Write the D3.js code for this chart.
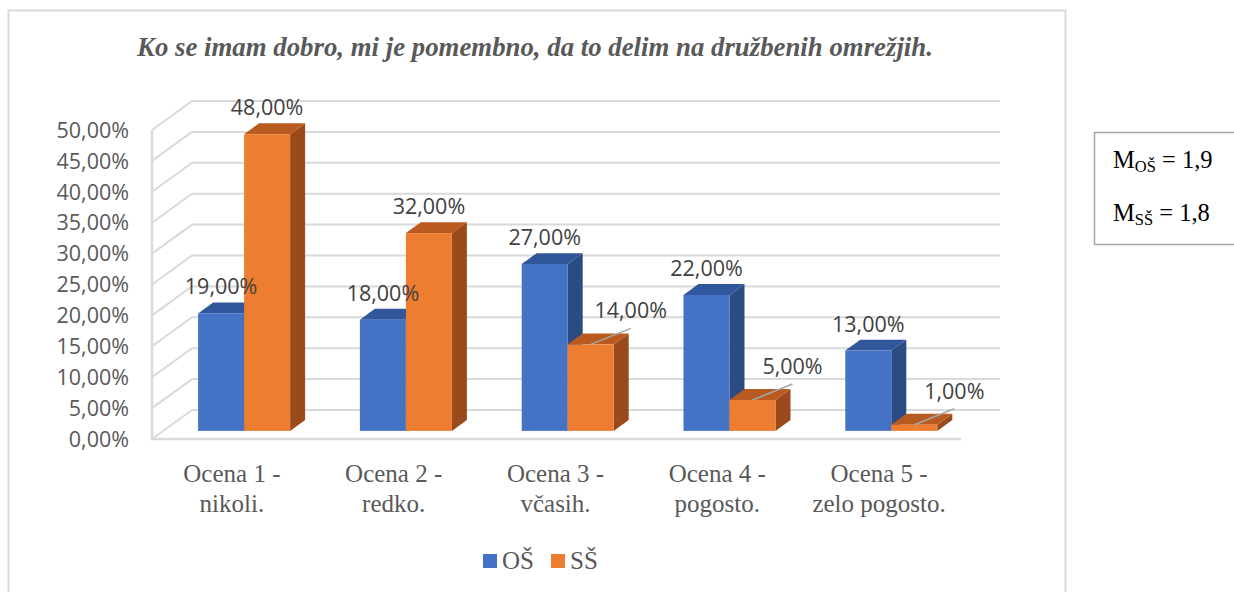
<!DOCTYPE html>
<html>
<head>
<meta charset="utf-8">
<script src="https://cdnjs.cloudflare.com/ajax/libs/d3/7.8.5/d3.min.js"></script>
<style>
  body { margin: 0; background: #fff; }
  svg { display: block; }
</style>
</head>
<body>
<svg id="chart" width="1234" height="592"></svg>
<script>

var title = 'Ko se imam dobro, mi je pomembno, da to delim na družbenih omrežjih.';

var categories = [
  ['Ocena 1 -', 'nikoli.'],
  ['Ocena 2 -', 'redko.'],
  ['Ocena 3 -', 'včasih.'],
  ['Ocena 4 -', 'pogosto.'],
  ['Ocena 5 -', 'zelo pogosto.']
];

var seriesNames = ['OŠ', 'SŠ'];
var osValues = [0.19, 0.18, 0.27, 0.22, 0.13];
var ssValues = [0.48, 0.32, 0.14, 0.05, 0.01];

var yTicks = [0, 0.05, 0.10, 0.15, 0.20, 0.25, 0.30, 0.35, 0.40, 0.45, 0.50];

var means = [['OŠ', '1,9'], ['SŠ', '1,8']];

var colors = {
  OS: { front: '#4472C4', top: '#30569B', side: '#2B4B83' },
  SS: { front: '#ED7D31', top: '#B95B20', side: '#9B4A1B' }
};

var svg = d3.select('#chart');

var locale = d3.formatLocale({ decimal: ',', thousands: '.', grouping: [3], currency: ['', '€'] });
var pct = locale.format('.2%');

// oblique 3d: depth offset of the whole wall
var wallDx = 40,
    wallDy = -29;

var x = d3.scaleBand()
    .domain(d3.range(categories.length))
    .range([152, 961]);

var y = d3.scaleLinear()
    .domain([0, 0.5])
    .range([439, 130]);

function px(xx, d) { return xx + wallDx * d; }
function py(yy, d) { return yy + wallDy * d; }

var grid = '#D9D9D9';

// back wall gridlines
svg.append('g').selectAll('line.back')
    .data(yTicks)
  .enter().append('line')
    .attr('x1', px(x.range()[0], 1))
    .attr('x2', 1000)
    .attr('y1', function(d) { return py(y(d), 1); })
    .attr('y2', function(d) { return py(y(d), 1); })
    .attr('stroke', grid)
    .attr('stroke-width', 2);

// left wall diagonals
svg.append('g').selectAll('line.side')
    .data(yTicks)
  .enter().append('line')
    .attr('x1', x.range()[0])
    .attr('x2', px(x.range()[0], 1))
    .attr('y1', function(d) { return y(d); })
    .attr('y2', function(d) { return py(y(d), 1); })
    .attr('stroke', grid)
    .attr('stroke-width', 2);

// left wall front edge and floor front edge
svg.append('path')
    .attr('d', 'M' + x.range()[0] + ',' + y(0.5) + 'V' + y(0) + 'H' + x.range()[1])
    .attr('fill', 'none')
    .attr('stroke', grid)
    .attr('stroke-width', 2.5);

// y axis labels
svg.append('g').selectAll('text')
    .data(yTicks)
  .enter().append('text')
    .attr('x', 129)
    .attr('y', function(d) { return y(d); })
    .attr('dy', '0.36em')
    .attr('text-anchor', 'end')
    .style('font-family', 'Open Sans, sans-serif')
    .style('font-size', '21.5px')
    .attr('fill', '#595959')
    .text(function(d) { return pct(d); });

// bars
var barDepth = 0.28,
    barThick = 0.375,
    barW = 46,
    pad = (x.bandwidth() - 2 * barW) / 2;

var bars = [];
categories.forEach(function(c, i) {
  bars.push({ i: i, s: 0, v: osValues[i], col: colors.OS });
  bars.push({ i: i, s: 1, v: ssValues[i], col: colors.SS });
});

// draw left to right, blue first so the orange front covers the blue side
var gb = svg.append('g');
bars.forEach(function(b) {
  var x0 = px(x(b.i) + pad + b.s * barW, barDepth),
      x1 = x0 + barW,
      yb = py(y(0), barDepth),
      yt = py(y(b.v), barDepth),
      ddx = wallDx * barThick,
      ddy = wallDy * barThick;
  b.cx = (x0 + x1) / 2;
  b.yt = yt;

  var g = gb.append('g');
  g.append('path')
      .attr('d', 'M' + [x1, yb] + 'L' + [x1 + ddx, yb + ddy] + 'L' + [x1 + ddx, yt + ddy] + 'L' + [x1, yt] + 'Z')
      .attr('fill', b.col.side);
  g.append('path')
      .attr('d', 'M' + [x0, yt] + 'L' + [x0 + ddx, yt + ddy] + 'L' + [x1 + ddx, yt + ddy] + 'L' + [x1, yt] + 'Z')
      .attr('fill', b.col.top);
  g.append('rect')
      .attr('x', x0)
      .attr('y', yt)
      .attr('width', barW)
      .attr('height', yb - yt)
      .attr('fill', b.col.front);
});

// data labels, small SŠ values pushed aside with a leader line
var gl = svg.append('g');
bars.forEach(function(b) {
  var lx = b.cx,
      ly = b.yt - 19;
  if (b.s === 1 && b.v < 0.15) {
    var ex = b.cx + 40,
        ey = b.yt - 16;
    gl.append('line')
        .attr('x1', b.cx).attr('y1', b.yt)
        .attr('x2', ex).attr('y2', ey)
        .attr('stroke', '#A6A6A6')
        .attr('stroke-width', 1.5);
    lx = ex;
    ly = ey - 10;
  }
  gl.append('text')
      .attr('x', lx)
      .attr('y', ly)
      .attr('text-anchor', 'middle')
      .style('font-family', 'Open Sans, sans-serif')
      .style('font-size', '21.5px')
      .attr('fill', '#404040')
      .text(pct(b.v));
});

// category labels
var gc = svg.append('g');
categories.forEach(function(c, i) {
  var t = gc.append('text')
      .attr('text-anchor', 'middle')
      .style('font-family', 'Liberation Serif, Times New Roman, serif')
      .style('font-size', '25px')
      .attr('fill', '#595959');
  c.forEach(function(line, k) {
    t.append('tspan')
        .attr('x', x(i) + x.bandwidth() / 2 - 1)
        .attr('y', 482 + k * 30)
        .text(line);
  });
});

// title
svg.append('text')
    .attr('x', 535)
    .attr('y', 56)
    .attr('text-anchor', 'middle')
    .style('font-family', 'Liberation Serif, Times New Roman, serif')
    .style('font-size', '26.8px')
    .style('font-weight', 'bold')
    .style('font-style', 'italic')
    .attr('fill', '#595959')
    .text(title);

// legend
var legend = svg.append('g');
var lx = [483, 551];
seriesNames.forEach(function(n, k) {
  legend.append('rect')
      .attr('x', lx[k]).attr('y', 554)
      .attr('width', 14).attr('height', 14)
      .attr('fill', k === 0 ? colors.OS.front : colors.SS.front);
  legend.append('text')
      .attr('x', lx[k] + 19).attr('y', 569)
      .style('font-family', 'Liberation Serif, Times New Roman, serif')
      .style('font-size', '25px')
      .attr('fill', '#595959')
      .text(n);
});

// chart frame
svg.append('rect')
    .attr('x', 8.5).attr('y', 10.5)
    .attr('width', 1057).attr('height', 600)
    .attr('fill', 'none')
    .attr('stroke', '#D9D9D9')
    .attr('stroke-width', 2);

// means box
svg.append('rect')
    .attr('x', 1094.5).attr('y', 132.5)
    .attr('width', 160).attr('height', 112)
    .attr('fill', 'none')
    .attr('stroke', '#A6A6A6')
    .attr('stroke-width', 1.5);

means.forEach(function(m, k) {
  var t = svg.append('text')
      .attr('x', 1113)
      .attr('y', 168 + k * 53)
      .style('font-family', 'Liberation Serif, Times New Roman, serif')
      .style('font-size', '24.5px')
      .attr('fill', '#000');
  t.append('tspan').text('M');
  t.append('tspan').attr('dy', 4).style('font-size', '16.5px').text(m[0]);
  t.append('tspan').attr('dy', -4).text(' = ' + m[1]);
});

</script>
</body>
</html>
